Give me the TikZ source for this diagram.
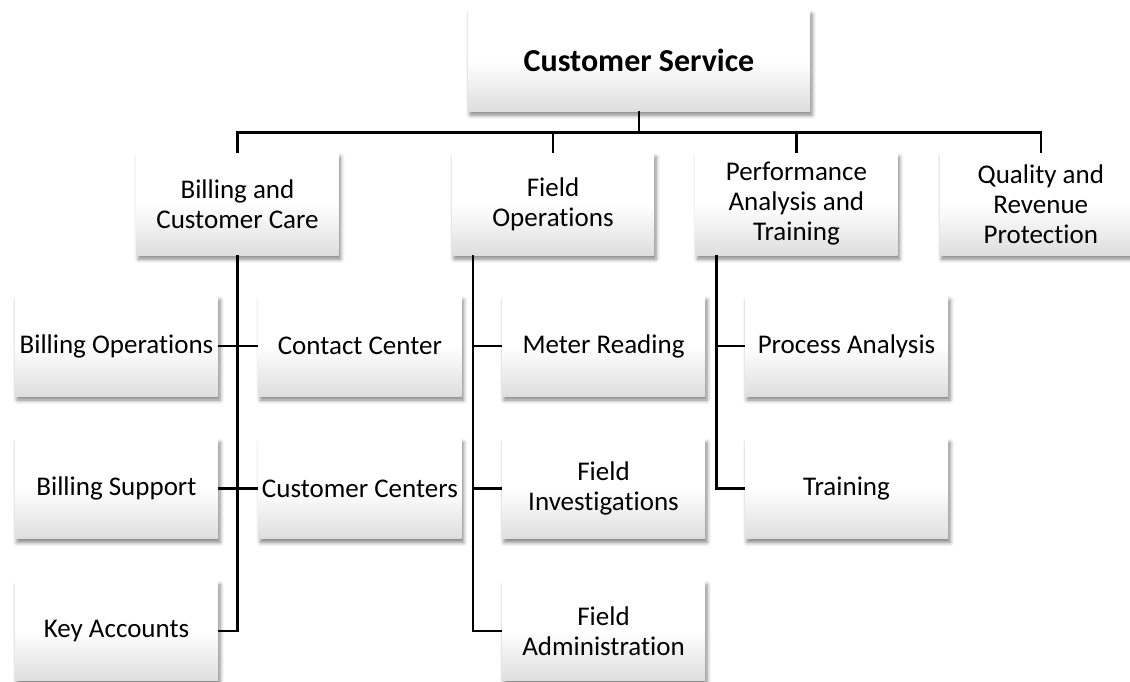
\documentclass[tikz,border=0pt]{standalone}
\usepackage{fontspec}
\setmainfont{Carlito}[Ligatures=NoCommon]
\usepackage{tikz}
\usetikzlibrary{positioning,calc,shadows.blur}
\definecolor{cLine}{HTML}{000000}
\definecolor{cShade}{HTML}{DEDEDE}
\tikzset{
  obox/.style={inner sep=2pt,align=center,text=black,
               top color=white,bottom color=cShade,middle color=white,
               blur shadow={shadow xshift=2pt,shadow yshift=-4pt,
                            shadow blur radius=4pt,shadow opacity=50},
               font=\fontsize{27}{30}\selectfont},
  ohead/.style={obox,minimum width=342pt,minimum height=101pt,
                font=\fontsize{32}{38}\selectfont\bfseries},
  odept/.style={obox,minimum width=202pt,minimum height=102pt},
  ounit/.style={obox,minimum width=203pt,minimum height=100pt},
  link/.style={line width=2.6pt,cLine},
}
\begin{document}
\begin{tikzpicture}[x=1pt,y=1pt,node distance=42pt and 40pt]
    \useasboundingbox (0,0) rectangle (1130,-681);
    \node[ohead] (cs) at (639,-60.5) {Customer Service};
    % departments
    \node[odept] (bcc) at (237.5,-204) {Billing and\\Customer Care};
    \node[odept] (fo)  at (553,-204)   {Field\\Operations};
    \node[odept,right=41pt of fo]  (pat) {Performance\\Analysis and\\Training};
    \node[odept,right=42pt of pat] (qrp) {Quality and\\Revenue\\Protection};
    % units
    \node[ounit] (bo) at (116.5,-346) {Billing Operations};
    \node[ounit,right=of bo]  (cc)  {Contact Center};
    \node[ounit,below=of bo]  (bs)  {Billing Support};
    \node[ounit,right=of bs]  (cce) {Customer Centers};
    \node[ounit,below=of bs]  (ka)  {Key Accounts};
    \node[ounit] (mr) at (603.5,-346) {Meter Reading};
    \node[ounit,below=of mr]  (fi)  {Field\\Investigations};
    \node[ounit,below=of fi]  (fa)  {Field\\Administration};
    \node[ounit] (pa) at (846.5,-346) {Process Analysis};
    \node[ounit,below=of pa]  (tr)  {Training};
    % bus under the head box
    \coordinate (bus) at ($(cs.south)+(0,-21)$);
    \draw[link] (cs.south) -- (bus);
    \draw[link] (bcc.north) |- (bus) -| (qrp.north);
    \draw[link] (fo.north) -- (fo.north |- bus);
    \draw[link] (pat.north) -- (pat.north |- bus);
    % billing and customer care
    \draw[link] (bcc.south) |- (ka.east);
    \draw[link] (bo.east) -- (cc.west);
    \draw[link] (bs.east) -- (cce.west);
    % field operations, tap near the left edge
    \coordinate (fotap) at ($(fo.south west)+(21,0)$);
    \draw[link] (fotap) |- (fa.west);
    \draw[link] (fotap |- mr.west) -- (mr.west);
    \draw[link] (fotap |- fi.west) -- (fi.west);
    % performance analysis and training
    \coordinate (pattap) at ($(pat.south west)+(21,0)$);
    \draw[link] (pattap) |- (tr.west);
    \draw[link] (pattap |- pa.west) -- (pa.west);
\end{tikzpicture}
\end{document}
